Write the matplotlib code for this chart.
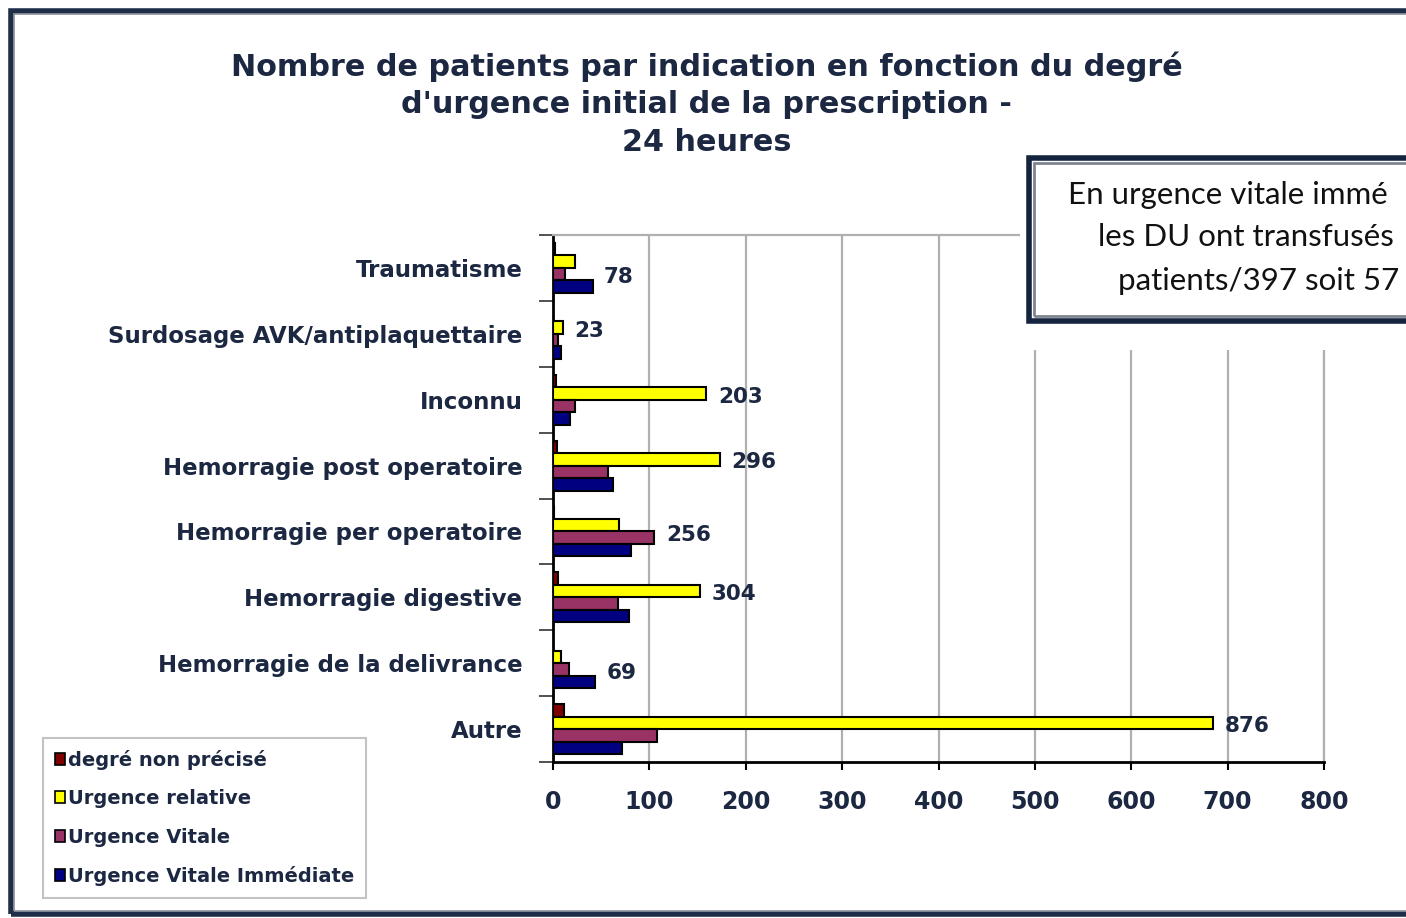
import matplotlib
matplotlib.use("Agg")
import matplotlib.pyplot as plt
from matplotlib.patches import Rectangle, Patch
import numpy as np

categories = ["Traumatisme", "Surdosage AVK/antiplaquettaire", "Inconnu",
              "Hemorragie post operatoire", "Hemorragie per operatoire",
              "Hemorragie digestive", "Hemorragie de la delivrance", "Autre"]
degre_non_precise = [2, 0, 3, 4, 1, 5, 0, 11]
urgence_relative = [23, 10, 159, 173, 69, 153, 8, 685]
urgence_vitale = [12, 5, 23, 57, 105, 67, 17, 108]
urgence_vitale_immediate = [41, 8, 18, 62, 81, 79, 44, 72]
totals = [78, 23, 203, 296, 256, 304, 69, 876]
series_names = ["degré non précisé", "Urgence relative", "Urgence Vitale",
                "Urgence Vitale Immédiate"]
series_colors = ["#800000", "#FFFF00", "#993366", "#000080"]
xticks = [0, 100, 200, 300, 400, 500, 600, 700, 800]
title = ("Nombre de patients par indication en fonction du degré\n"
         "d'urgence initial de la prescription -\n24 heures")
note_lines = ["En urgence vitale immé", "les DU ont transfusés",
              "patients/397 soit 57"]

W, H = 1406, 918
fig = plt.figure(figsize=(W / 100, H / 100), dpi=100)
fig.patch.set_facecolor("white")
txtc = "#1c2742"
font = ["DejaVu Sans"]

def fx(px):
    return px / W

def fy(py):
    return 1 - py / H

ax = fig.add_axes([fx(553), fy(762), fx(1324) - fx(553), fy(235) - fy(762)])

series = [degre_non_precise, urgence_relative, urgence_vitale, urgence_vitale_immediate]
y = np.arange(len(categories))
h = 0.19
offsets = [-1.5 * h, -0.5 * h, 0.5 * h, 1.5 * h]
for vals, col, off, name in zip(series, series_colors, offsets, series_names):
    ax.barh(y + off, vals, height=h, color=col, edgecolor="black", linewidth=1.5,
            zorder=3, label=name)

for i, tot in enumerate(totals):
    vals = [s[i] for s in series]
    k = int(np.argmax(vals))
    ax.text(max(vals) + 12, y[i] + 0.5 * offsets[k], str(tot), fontsize=15.5, fontweight="bold",
            color=txtc, va="center", ha="left", family=font, zorder=4)

ax.set_xlim(0, 800)
ax.set_ylim(len(categories) - 0.5, -0.5)
ax.set_xticks(xticks)
ax.set_xticklabels([str(t) for t in xticks], fontsize=17, fontweight="bold",
                   color=txtc, family=font)
ax.tick_params(axis="x", length=6, width=1.5, direction="out", pad=14)
ax.set_yticks(np.arange(len(categories) + 1) - 0.5)
ax.set_yticklabels([])
ax.set_yticks(y, minor=True)
ax.set_yticklabels(categories, minor=True, fontsize=16.5, fontweight="bold",
                   color=txtc, family=font)
ax.tick_params(axis="y", which="major", length=10, width=1.2, direction="out", color="#333333")
ax.tick_params(axis="y", which="minor", length=0, pad=22)
ax.xaxis.grid(True, color="#b0b0b0", linewidth=1.6, zorder=0)
ax.set_axisbelow(True)
for s in ["top", "right"]:
    ax.spines[s].set_color("#b0b0b0")
    ax.spines[s].set_linewidth(1.6)
for s in ["left", "bottom"]:
    ax.spines[s].set_color("black")
    ax.spines[s].set_linewidth(2)

fig.text(0.5025, fy(51), title, ha="center", va="top", fontsize=21.8, fontweight="bold",
         color=txtc, family=font, linespacing=1.38)

# outer frame
fig.add_artist(Rectangle((fx(11), fy(914)), 1.2, fy(11) - fy(914), transform=fig.transFigure,
                         fill=False, edgecolor="#1e2d48", linewidth=4, zorder=1))
fig.add_artist(Rectangle((fx(14), fy(911)), 1.2, fy(14) - fy(911), transform=fig.transFigure,
                         fill=False, edgecolor="#8a8f99", linewidth=1.2, zorder=1))

# white area behind note box
fig.add_artist(Rectangle((fx(1020), fy(350)), 0.5, fy(150) - fy(350), transform=fig.transFigure,
                         facecolor="white", edgecolor="none", zorder=10))
# note box
fig.add_artist(Rectangle((fx(1029), fy(321)), 0.5, fy(158) - fy(321), transform=fig.transFigure,
                         facecolor="white", edgecolor="#14243f", linewidth=4, zorder=11))
fig.add_artist(Rectangle((fx(1034), fy(316)), 0.5, fy(163) - fy(316), transform=fig.transFigure,
                         fill=False, edgecolor="#7f8590", linewidth=2, zorder=12))
note_x = [1068, 1098, 1118]
note_y = [195, 237, 281]
for t, xx, yy in zip(note_lines, note_x, note_y):
    fig.text(fx(xx), fy(yy), t, ha="left", va="center", fontsize=22.5, color="#111111",
             family=["Lato", "DejaVu Sans"], zorder=13)

handles = [Patch(facecolor=c, edgecolor="black", linewidth=1.2) for c in series_colors]
leg = fig.legend(handles, series_names, loc="upper left",
                 bbox_to_anchor=(fx(43), fy(738)), bbox_transform=fig.transFigure,
                 prop={"family": "DejaVu Sans", "weight": "bold", "size": 14},
                 handlelength=0.55, handleheight=0.55, handletextpad=0.15,
                 labelspacing=1.0, borderpad=0.6, borderaxespad=0,
                 frameon=True, fancybox=False, edgecolor="#b5b5b5")
leg.get_frame().set_linewidth(1.5)
for t in leg.get_texts():
    t.set_color(txtc)

fig.savefig("out.png", dpi=100)
